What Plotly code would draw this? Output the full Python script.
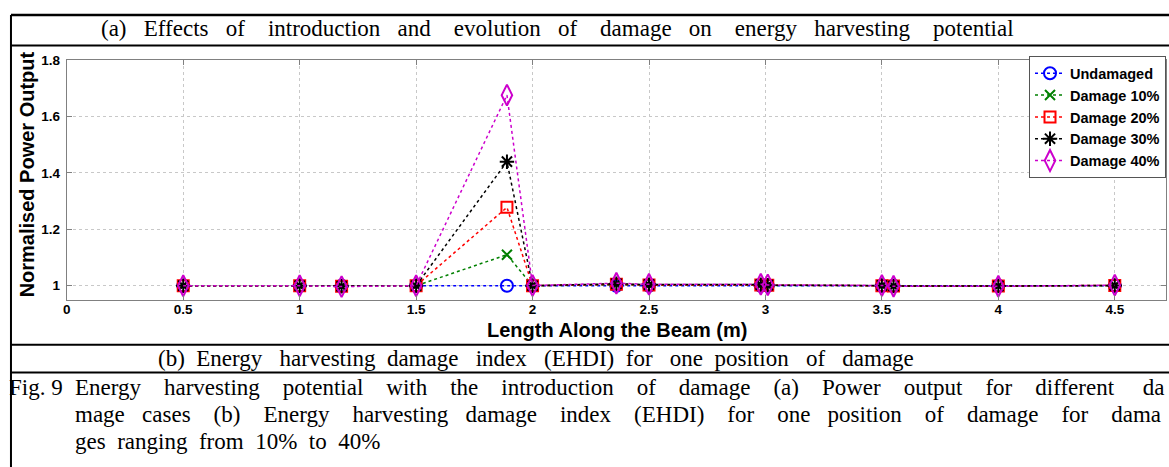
import plotly.graph_objects as go

W, H = 1169, 467

# Sensor positions along the beam (m)
positions = [0.5, 1.0, 1.18, 1.5, 1.89, 2.0, 2.36, 2.5, 2.98, 3.01, 3.5, 3.55, 4.0, 4.5]

# Normalised power output at each position for every damage case
undamaged = [1.0, 1.0, 1.0, 1.0, 1.0, 1.0, 1.0, 1.0, 1.0, 1.0, 1.0, 1.0, 1.0, 1.0]
damage_10 = [1.0, 1.0, 0.999, 1.0, 1.11, 1.0, 1.003, 1.002, 1.002, 1.001, 1.0, 0.999, 0.999, 1.0]
damage_20 = [1.0, 1.0, 0.998, 1.0, 1.278, 1.0, 1.005, 1.003, 1.003, 1.002, 1.0, 0.999, 0.999, 1.001]
damage_30 = [1.0, 1.0, 0.998, 1.0, 1.44, 1.0, 1.007, 1.004, 1.004, 1.002, 1.001, 0.999, 0.999, 1.001]
damage_40 = [1.0, 1.0, 0.997, 1.0, 1.676, 1.001, 1.009, 1.005, 1.005, 1.003, 1.001, 0.998, 0.998, 1.002]

series_names = ["Undamaged", "Damage 10%", "Damage 20%", "Damage 30%", "Damage 40%"]
series_values = [undamaged, damage_10, damage_20, damage_30, damage_40]

x_ticks = [0, 0.5, 1, 1.5, 2, 2.5, 3, 3.5, 4, 4.5]
x_tick_labels = ["0", "0.5", "1", "1.5", "2", "2.5", "3", "3.5", "4", "4.5"]
y_ticks = [1, 1.2, 1.4, 1.6, 1.8]
y_tick_labels = ["1", "1.2", "1.4", "1.6", "1.8"]

panel_title = "(a) Effects of introduction and evolution of damage on energy harvesting potential"
panel_b_title = "(b) Energy harvesting damage index (EHDI) for one position of damage"
caption_label = "Fig. 9"
caption_lines = [
    "Energy harvesting potential with the introduction of damage (a) Power output for different da",
    "mage cases (b) Energy harvesting damage index (EHDI) for one position of damage for dama",
    "ges ranging from 10% to 40%",
]

styles = [
    dict(color="#0000ff", symbol="circle-open", size=12),
    dict(color="#008000", symbol="x-thin-open", size=10),
    dict(color="#ff0000", symbol="square-open", size=11),
    dict(color="#000000", symbol="asterisk-open", size=12),
    dict(color="#cc00cc", symbol="diamond-tall-open", size=15),
]

SANS = "Liberation Sans"
SERIF = "Liberation Serif"


def px_x(px):
    return px / W


def px_y(py):
    return 1 - py / H


def spread(text, extra):
    """Justify a line by sharing `extra` non-breaking spaces among its word gaps."""
    words = text.split(" ")
    gaps = len(words) - 1
    out = words[0]
    for i in range(gaps):
        n = (i + 1) * extra // gaps - i * extra // gaps
        out += " " + "\u00a0" * n + words[i + 1]
    return out


fig = go.Figure()
for name, vals, st in zip(series_names, series_values, styles):
    fig.add_trace(go.Scatter(
        x=positions, y=vals, name=name, mode="lines+markers",
        line=dict(color=st["color"], width=1.5, dash="dot"),
        marker=dict(symbol=st["symbol"], size=st["size"], color=st["color"],
                    line=dict(color=st["color"], width=2)),
    ))

axis_common = dict(
    showline=True, mirror="ticks", linecolor="#808080", linewidth=1,
    ticks="inside", ticklen=5, tickcolor="#808080",
    showgrid=True, gridcolor="#c8c8c8", griddash="dot", gridwidth=1,
    zeroline=False,
    tickfont=dict(family=SANS, size=13.5, color="black", weight="bold"),
)

fig.update_layout(
    width=W, height=H,
    margin=dict(l=0, r=0, t=0, b=0),
    paper_bgcolor="white", plot_bgcolor="white",
    xaxis=dict(domain=[px_x(63), px_x(1166)], range=[0, 4.72],
               tickvals=x_ticks, ticktext=x_tick_labels, ticklabelstandoff=-3, **axis_common),
    yaxis=dict(domain=[px_y(297), px_y(54)], range=[0.951, 1.8],
               tickvals=y_ticks, ticktext=y_tick_labels, ticklabelstandoff=3, **axis_common),
    legend=dict(x=px_x(1166), y=px_y(50), xanchor="right", yanchor="top",
                bgcolor="white", bordercolor="#555555", borderwidth=1,
                font=dict(family=SANS, size=14.5, color="black", weight="bold"),
                tracegroupgap=0, itemwidth=30),
    showlegend=True,
)

annotations = [
    dict(text=spread(panel_title, 27), x=px_x(555), y=px_y(22), xanchor="center", yanchor="middle",
         font=dict(family=SERIF, size=23, color="black")),
    dict(text="Length Along the Beam (m)", x=px_x(615), y=px_y(328), xanchor="center", yanchor="middle",
         font=dict(family=SANS, size=20, color="black", weight="bold")),
    dict(text="Normalised Power Output", x=px_x(24), y=px_y(170), xanchor="center", yanchor="middle",
         textangle=-90, font=dict(family=SANS, size=20, color="black", weight="bold")),
    dict(text=spread(panel_b_title, 16), x=px_x(534), y=px_y(357), xanchor="center", yanchor="middle",
         font=dict(family=SERIF, size=23, color="black")),
    dict(text=caption_label, x=px_x(3), y=px_y(386), xanchor="left", yanchor="middle",
         font=dict(family=SERIF, size=23, color="black")),
    dict(text=spread(caption_lines[0], 40), x=px_x(69), y=px_y(386), xanchor="left", yanchor="middle",
         font=dict(family=SERIF, size=23, color="black")),
    dict(text=spread(caption_lines[1], 39), x=px_x(69), y=px_y(414), xanchor="left", yanchor="middle",
         font=dict(family=SERIF, size=23, color="black")),
    dict(text=spread(caption_lines[2], 5), x=px_x(69), y=px_y(441), xanchor="left", yanchor="middle",
         font=dict(family=SERIF, size=23, color="black")),
]
for a in annotations:
    a.update(xref="paper", yref="paper", showarrow=False)
fig.update_layout(annotations=annotations)

# Table rules framing the panels
shapes = []
for py, w in [(8, 2.5), (39, 2), (343, 2), (371, 2)]:
    shapes.append(dict(type="line", xref="paper", yref="paper", x0=px_x(7), x1=1,
                       y0=px_y(py), y1=px_y(py), line=dict(color="black", width=w)))
shapes.append(dict(type="line", xref="paper", yref="paper", x0=px_x(7), x1=px_x(7),
                   y0=px_y(8), y1=0, line=dict(color="black", width=2)))
fig.update_layout(shapes=shapes)

fig.write_html("out.html")
